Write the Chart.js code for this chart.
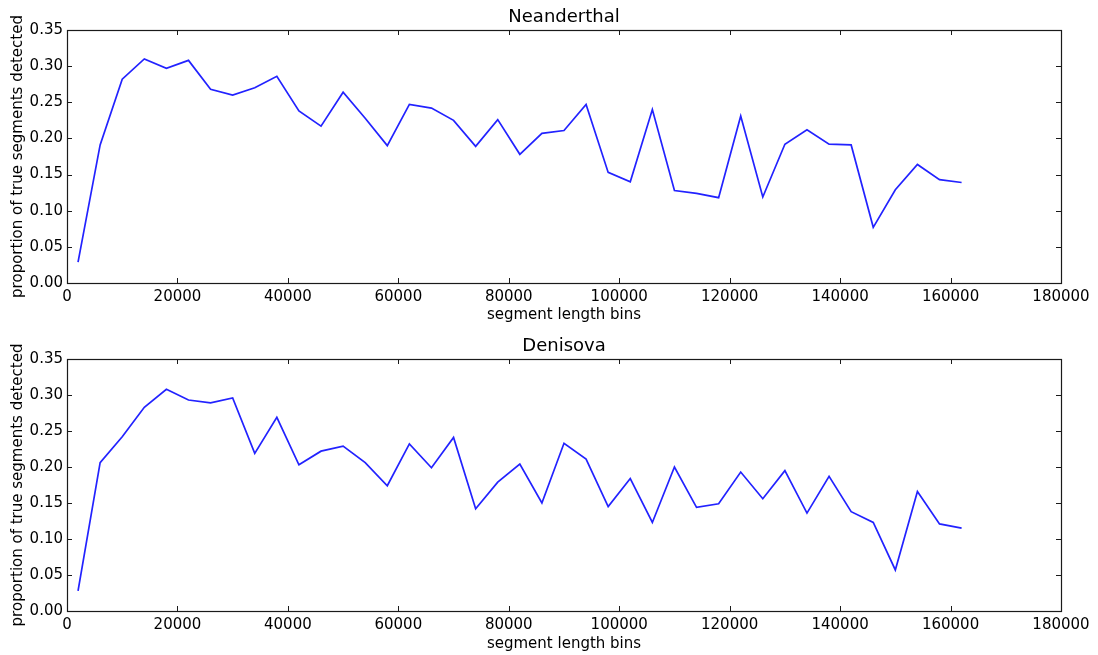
<!DOCTYPE html>
<html>
<head>
<meta charset="utf-8">
<title>Proportion of true segments detected</title>
<script src="https://cdn.jsdelivr.net/npm/chart.js@4/dist/chart.umd.min.js"></script>
<style>
  html, body { margin: 0; padding: 0; background: #ffffff; }
  #wrap { position: relative; width: 1098px; height: 655px; overflow: hidden; }
  canvas { position: absolute; left: 0; }
  #top { top: 0; }
  #bottom { top: 329px; }
</style>
</head>
<body>
<div id="wrap">
  <canvas id="top" width="1098" height="328"></canvas>
  <canvas id="bottom" width="1098" height="326"></canvas>
</div>
<script>
// Segment length bins (bin centres, bp)
const segmentLengthBins = [
  2000, 6000, 10000, 14000, 18000, 22000, 26000, 30000, 34000, 38000,
  42000, 46000, 50000, 54000, 58000, 62000, 66000, 70000, 74000, 78000,
  82000, 86000, 90000, 94000, 98000, 102000, 106000, 110000, 114000, 118000,
  122000, 126000, 130000, 134000, 138000, 142000, 146000, 150000, 154000, 158000,
  162000
];

// Proportion of true segments detected per bin
const neanderthal = [
  0.029, 0.191, 0.282, 0.310, 0.297, 0.308, 0.268, 0.260, 0.270, 0.286,
  0.238, 0.217, 0.264, 0.228, 0.190, 0.247, 0.242, 0.225, 0.189, 0.226,
  0.178, 0.207, 0.211, 0.247, 0.153, 0.140, 0.240, 0.128, 0.124, 0.118,
  0.231, 0.119, 0.192, 0.212, 0.192, 0.191, 0.077, 0.129, 0.164, 0.143,
  0.139
];

const denisova = [
  0.028, 0.206, 0.242, 0.283, 0.308, 0.293, 0.289, 0.296, 0.219, 0.269,
  0.203, 0.222, 0.229, 0.206, 0.174, 0.232, 0.199, 0.241, 0.142, 0.179,
  0.204, 0.150, 0.233, 0.211, 0.145, 0.184, 0.123, 0.200, 0.144, 0.149,
  0.193, 0.156, 0.195, 0.136, 0.187, 0.138, 0.123, 0.057, 0.166, 0.121,
  0.115
];

// Axis ticks
const xTickValues = [0, 20000, 40000, 60000, 80000, 100000, 120000, 140000, 160000, 180000];
const yTickValues = [0.00, 0.05, 0.10, 0.15, 0.20, 0.25, 0.30, 0.35];

const FONT = "'DejaVu Sans', 'Liberation Sans', sans-serif";

// Box frame with inward tick marks on all four sides
const frameTicks = {
  id: 'frameTicks',
  afterDatasetsDraw(chart) {
    const { ctx, chartArea: a, scales: { x, y } } = chart;
    const len = 5;
    ctx.save();
    ctx.strokeStyle = '#1a1a1a';
    ctx.lineWidth = 1;
    ctx.beginPath();
    xTickValues.forEach(v => {
      const px = Math.round(x.getPixelForValue(v)) + 0.5;
      ctx.moveTo(px, a.bottom); ctx.lineTo(px, a.bottom - len);
      ctx.moveTo(px, a.top); ctx.lineTo(px, a.top + len);
    });
    yTickValues.forEach(v => {
      const py = Math.round(y.getPixelForValue(v)) + 0.5;
      ctx.moveTo(a.left, py); ctx.lineTo(a.left + len, py);
      ctx.moveTo(a.right, py); ctx.lineTo(a.right - len, py);
    });
    ctx.stroke();
    ctx.lineWidth = 1.2;
    ctx.strokeRect(Math.round(a.left) + 0.5, Math.round(a.top) + 0.5,
                   Math.round(a.right - a.left), Math.round(a.bottom - a.top));
    ctx.restore();
  }
};

function makeChart(canvasId, title, values, xAxisHeight, xTitlePad) {
  const points = segmentLengthBins.map((b, i) => ({ x: b, y: values[i] }));
  return new Chart(document.getElementById(canvasId), {
    type: 'scatter',
    data: {
      datasets: [{
        data: points,
        showLine: true,
        borderColor: '#2222ff',
        borderWidth: 1.7,
        pointRadius: 0,
        pointHoverRadius: 0,
        tension: 0,
        fill: false
      }]
    },
    options: {
      responsive: false,
      animation: false,
      events: [],
      layout: { padding: { left: 0, top: 0, right: 37, bottom: 0 } },
      plugins: {
        legend: { display: false },
        tooltip: { enabled: false },
        title: {
          display: true,
          text: title,
          fullSize: false,
          color: '#000000',
          font: { family: FONT, size: 18, weight: 'normal', lineHeight: 1.2 },
          padding: { top: 7, bottom: 1.4 }
        }
      },
      scales: {
        x: {
          type: 'linear',
          min: 0,
          max: 180000,
          afterBuildTicks(scale) { scale.ticks = xTickValues.map(v => ({ value: v })); },
          afterFit(scale) { scale.height = xAxisHeight; },
          grid: { display: false, drawTicks: false },
          border: { display: false },
          ticks: {
            color: '#000000',
            font: { family: FONT, size: 15 },
            padding: 5,
            maxRotation: 0,
            autoSkip: false,
            callback: v => String(v)
          },
          title: {
            display: true,
            text: 'segment length bins',
            color: '#000000',
            font: { family: FONT, size: 15, lineHeight: 1.2 },
            padding: { top: 0, bottom: xTitlePad }
          }
        },
        y: {
          type: 'linear',
          min: 0,
          max: 0.35,
          afterBuildTicks(scale) { scale.ticks = yTickValues.map(v => ({ value: v })); },
          afterFit(scale) { scale.width = 67; },
          grid: { display: false, drawTicks: false },
          border: { display: false },
          ticks: {
            color: '#000000',
            font: { family: FONT, size: 15 },
            padding: 4,
            autoSkip: false,
            callback: v => Number(v).toFixed(2)
          },
          title: {
            display: true,
            text: 'proportion of true segments detected',
            color: '#000000',
            font: { family: FONT, size: 15, lineHeight: 1.2 },
            padding: { top: 9, bottom: 0 }
          }
        }
      }
    },
    plugins: [frameTicks]
  });
}

makeChart('top', 'Neanderthal', neanderthal, 45, 4);
makeChart('bottom', 'Denisova', denisova, 44, 2);
</script>
</body>
</html>
